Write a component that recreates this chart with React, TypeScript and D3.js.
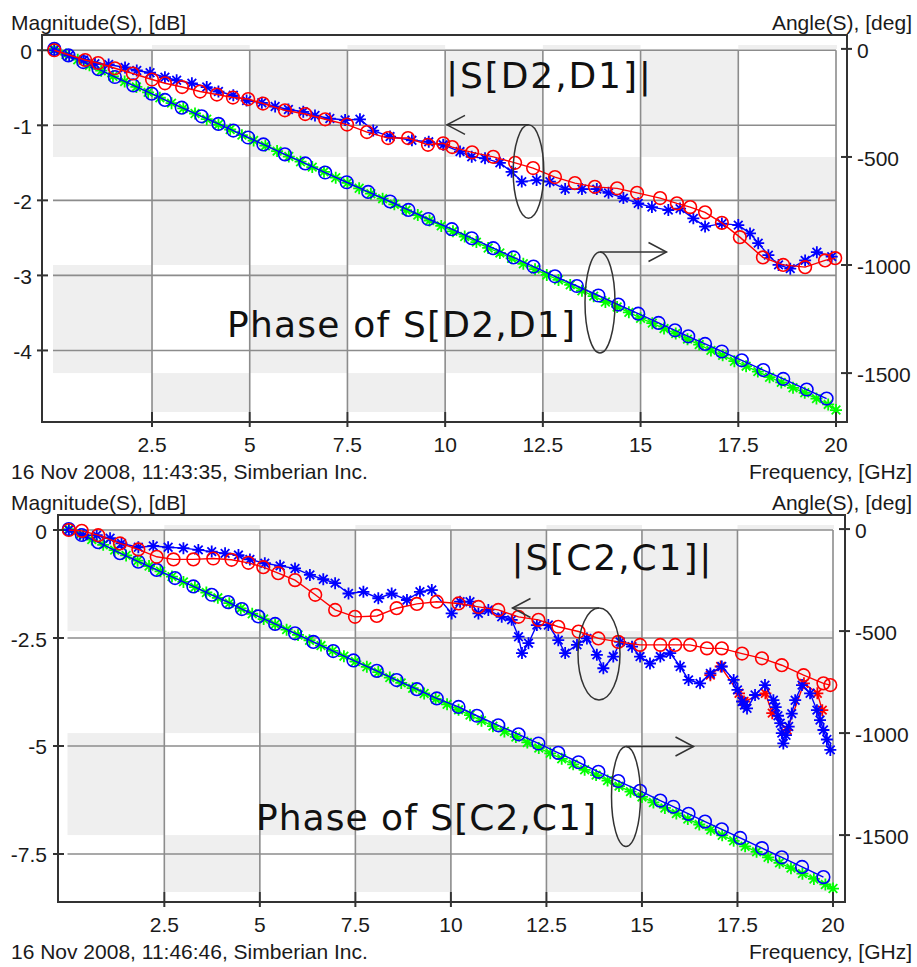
import React from 'react';
import * as d3 from 'd3';

// ---------- shared ticks ----------
const freqTicks = [2.5, 5, 7.5, 10, 12.5, 15, 17.5, 20];
const angleTicks = [0, -500, -1000, -1500];
const d21MagTicks = [0, -1, -2, -3, -4];
const c21MagTicks = [0, -2.5, -5, -7.5];

// ---------- Top chart: S[D2,D1] ----------
// magnitude, red circles
const d21MagModelFreq = [0, 0.79, 1.12, 1.55, 2.01, 2.5, 2.83, 3.27, 3.73, 4.16, 4.57, 4.96, 5.34, 5.9, 6.42, 6.93, 7.49, 8.0, 8.54, 9.05, 9.56, 9.95, 10.18, 10.69, 11.23, 11.79, 12.25, 12.81, 13.32, 13.83, 14.4, 14.91, 15.5, 15.93, 16.27, 16.65, 17.08, 17.54, 18.13, 18.65, 19.21, 19.72, 19.98];
const d21MagModel = [0, -0.13, -0.17, -0.24, -0.31, -0.39, -0.44, -0.49, -0.55, -0.59, -0.63, -0.65, -0.71, -0.8, -0.85, -0.92, -0.99, -1.09, -1.17, -1.17, -1.26, -1.24, -1.29, -1.36, -1.42, -1.5, -1.57, -1.69, -1.77, -1.82, -1.84, -1.9, -1.97, -2.04, -2.09, -2.16, -2.3, -2.49, -2.76, -2.86, -2.89, -2.8, -2.77];
// magnitude, blue stars
const d21MagMeasFreq = [0, 0.38, 0.75, 1.04, 1.39, 1.81, 2.11, 2.45, 2.83, 3.13, 3.52, 3.9, 4.2, 4.58, 4.92, 5.31, 5.65, 5.99, 6.37, 6.67, 7.05, 7.44, 7.82, 8.16, 8.59, 9.15, 9.58, 9.95, 10.38, 10.68, 11.02, 11.4, 11.7, 11.96, 12.34, 12.68, 13.07, 13.5, 13.88, 14.18, 14.56, 14.94, 15.29, 15.71, 16.01, 16.35, 16.65, 17.08, 17.5, 17.8, 18.01, 18.27, 18.53, 18.83, 19.21, 19.51, 19.89];
const d21MagMeas = [0, -0.07, -0.13, -0.18, -0.19, -0.23, -0.27, -0.3, -0.36, -0.4, -0.44, -0.49, -0.55, -0.6, -0.67, -0.7, -0.75, -0.79, -0.82, -0.87, -0.91, -0.93, -0.92, -1.07, -1.15, -1.2, -1.22, -1.26, -1.35, -1.42, -1.44, -1.5, -1.62, -1.75, -1.73, -1.75, -1.85, -1.85, -1.85, -1.9, -1.97, -2.04, -2.09, -2.13, -2.11, -2.24, -2.35, -2.31, -2.33, -2.44, -2.57, -2.73, -2.86, -2.91, -2.8, -2.69, -2.75];
// phase, blue circles
const d21PhaseMeasFreq = [0, 0.36, 0.74, 1.13, 1.55, 2.02, 2.49, 2.83, 3.26, 3.77, 4.2, 4.58, 4.96, 5.35, 5.9, 6.42, 6.93, 7.48, 8.03, 8.59, 9.06, 9.57, 10.17, 10.68, 11.23, 11.75, 12.26, 12.81, 13.37, 13.92, 14.43, 14.94, 15.46, 15.88, 16.22, 16.65, 17.08, 17.59, 18.14, 18.65, 19.25, 19.76];
const d21PhaseMeas = [0, -30, -61, -94, -130, -169, -207, -236, -272, -312, -347, -378, -410, -442, -488, -530, -572, -617, -662, -706, -745, -787, -834, -876, -922, -965, -1007, -1052, -1097, -1141, -1183, -1225, -1268, -1302, -1330, -1365, -1400, -1441, -1486, -1527, -1576, -1618];
// phase, green stars
const phaseModelFreq = [0, 0.3, 0.6, 0.9, 1.2, 1.5, 1.8, 2.1, 2.4, 2.7, 3.0, 3.3, 3.6, 3.9, 4.2, 4.5, 4.8, 5.1, 5.4, 5.7, 6.0, 6.3, 6.6, 6.9, 7.2, 7.5, 7.8, 8.1, 8.4, 8.7, 9.0, 9.3, 9.6, 9.9, 10.2, 10.5, 10.8, 11.1, 11.4, 11.7, 12.0, 12.3, 12.6, 12.9, 13.2, 13.5, 13.8, 14.1, 14.4, 14.7, 15.0, 15.3, 15.6, 15.9, 16.2, 16.5, 16.8, 17.1, 17.4, 17.7, 18.0, 18.3, 18.6, 18.9, 19.2, 19.5, 19.8, 20.0];
const d21PhaseModel = [0, -26, -50, -76, -101, -127, -151, -176, -201, -226, -251, -275, -299, -325, -350, -373, -399, -424, -448, -473, -498, -522, -547, -569, -596, -620, -645, -670, -693, -719, -746, -769, -794, -819, -844, -868, -894, -921, -944, -969, -994, -1019, -1046, -1069, -1092, -1119, -1144, -1171, -1194, -1219, -1246, -1269, -1294, -1317, -1343, -1368, -1395, -1418, -1445, -1468, -1493, -1519, -1543, -1568, -1591, -1618, -1645, -1671];

// ---------- Bottom chart: S[C2,C1] ----------
const c21MagModelFreq = [0, 0.34, 0.77, 1.34, 1.82, 2.3, 2.74, 3.26, 3.78, 4.26, 4.7, 5.09, 5.48, 5.92, 6.45, 6.97, 7.49, 8.06, 8.58, 9.11, 9.63, 10.2, 10.72, 11.24, 11.77, 12.29, 12.81, 13.34, 13.86, 14.38, 14.95, 15.48, 15.87, 16.26, 16.7, 17.09, 17.62, 18.14, 18.66, 19.23, 19.75, 19.93];
const c21MagModel = [0, -0.02, -0.12, -0.31, -0.45, -0.62, -0.68, -0.68, -0.66, -0.69, -0.76, -0.86, -1.0, -1.16, -1.5, -1.85, -2.01, -1.99, -1.81, -1.71, -1.66, -1.7, -1.78, -1.85, -2.01, -2.08, -2.24, -2.35, -2.51, -2.59, -2.66, -2.66, -2.66, -2.66, -2.74, -2.74, -2.86, -2.97, -3.13, -3.36, -3.55, -3.59];
const c21MagMeasFreq = [0, 0.38, 0.73, 1.08, 1.38, 1.82, 2.21, 2.6, 3.0, 3.39, 3.74, 4.09, 4.44, 4.74, 5.13, 5.53, 5.92, 6.31, 6.66, 6.97, 7.32, 7.71, 8.1, 8.45, 8.85, 9.19, 9.5, 10.02, 10.24, 10.5, 10.72, 10.98, 11.33, 11.59, 11.77, 11.86, 12.03, 12.25, 12.55, 12.81, 12.99, 13.3, 13.56, 13.82, 13.99, 14.25, 14.43, 14.74, 14.95, 15.21, 15.48, 15.74, 16.0, 16.22, 16.52, 16.79, 17.09, 17.4, 17.5, 17.62, 17.68, 17.75, 17.96, 18.22, 18.44, 18.5, 18.56, 18.62, 18.66, 18.7, 18.77, 18.84, 18.92, 19.01, 19.19, 19.4, 19.58, 19.66, 19.75, 19.84, 19.93];
const c21MagMeas = [0, -0.12, -0.12, -0.19, -0.31, -0.4, -0.37, -0.4, -0.42, -0.46, -0.5, -0.54, -0.58, -0.68, -0.77, -0.83, -0.89, -1.04, -1.14, -1.23, -1.47, -1.43, -1.58, -1.47, -1.62, -1.43, -1.39, -1.93, -1.66, -1.66, -1.93, -1.85, -2.01, -2.08, -2.47, -2.85, -2.62, -2.2, -2.2, -2.55, -2.85, -2.66, -2.51, -2.89, -3.2, -2.93, -2.59, -2.7, -2.93, -3.09, -2.93, -2.85, -3.16, -3.47, -3.55, -3.32, -3.16, -3.47, -3.7, -3.97, -4.05, -4.13, -3.82, -3.59, -3.94, -4.1, -4.3, -4.47, -4.7, -4.94, -4.75, -4.55, -4.25, -3.94, -3.59, -3.78, -4.17, -4.4, -4.63, -4.85, -5.09];
const c21MagMeas2Freq = [16.79, 17.06, 17.54, 17.67, 18.23, 18.41, 18.8, 19.24, 19.59, 19.72];
const c21MagMeas2 = [-3.36, -3.16, -3.78, -3.97, -3.78, -4.24, -4.63, -3.55, -3.78, -4.17];
const c21PhaseMeasFreq = [0, 0.34, 0.77, 1.34, 1.82, 2.3, 2.78, 3.26, 3.74, 4.17, 4.53, 4.96, 5.4, 5.92, 6.4, 6.92, 7.45, 8.06, 8.58, 9.11, 9.63, 10.2, 10.68, 11.24, 11.77, 12.29, 12.81, 13.34, 13.86, 14.38, 14.95, 15.48, 15.82, 16.22, 16.65, 17.09, 17.57, 18.14, 18.66, 19.19, 19.75];
const c21PhaseMeas = [0, -29, -64, -118, -160, -200, -240, -281, -322, -358, -392, -428, -465, -511, -553, -598, -644, -695, -740, -785, -830, -872, -915, -962, -1006, -1051, -1097, -1143, -1190, -1235, -1283, -1331, -1361, -1396, -1434, -1472, -1514, -1564, -1609, -1656, -1706];
const c21PhaseModel = [0, -25, -51, -77, -103, -129, -155, -181, -207, -233, -259, -285, -311, -337, -363, -389, -415, -441, -467, -493, -519, -545, -571, -597, -623, -649, -675, -701, -728, -754, -780, -806, -833, -859, -886, -912, -939, -966, -992, -1019, -1046, -1073, -1099, -1126, -1153, -1180, -1206, -1233, -1260, -1287, -1313, -1340, -1367, -1394, -1421, -1448, -1474, -1501, -1528, -1555, -1582, -1609, -1636, -1662, -1689, -1715, -1742, -1762];

const FONT = "'Liberation Sans', Arial, sans-serif";
const ANN_FONT = "'DejaVu Sans', Verdana, sans-serif";
const RED = '#ff0000';
const BLUE = '#0000ff';
const GREEN = '#00ff00';

type Series = { f: number[]; v: number[]; color: string; marker: 'circle' | 'star'; axis: 'L' | 'R' };

interface Ell { cx: number; cy: number; rx: number; ry: number; tipX: number }

interface Cfg {
  dy: number;
  fx0: number;
  fx1: number;
  xr: [number, number];
  magDomain: [number, number];
  angDomain: [number, number];
  magTicks: number[];
  magLabelX: number;
  angLabelX: number;
  stamp: string;
  series: Series[];
  magText: string;
  magTextPos: [number, number, number];
  phText: string;
  phTextPos: [number, number, number];
  ell1: Ell;
  ell2: Ell;
}

function starPath(cx: number, cy: number, s: number) {
  const d = s * 0.72;
  return `M${cx - s},${cy}L${cx + s},${cy}M${cx},${cy - s}L${cx},${cy + s}M${cx - d},${cy - d}L${cx + d},${cy + d}M${cx - d},${cy + d}L${cx + d},${cy - d}`;
}

function Arrow({ e, dir }: { e: Ell; dir: number }) {
  const y = e.cy - e.ry;
  return (
    <g stroke="#333" strokeWidth={1.5} fill="none">
      <ellipse cx={e.cx} cy={e.cy} rx={e.rx} ry={e.ry} />
      <line x1={e.cx} y1={y} x2={e.tipX} y2={y} />
      <polyline points={`${e.tipX - dir * 18},${y - 9.5} ${e.tipX},${y} ${e.tipX - dir * 18},${y + 9.5}`} />
    </g>
  );
}

function Chart({ c }: { c: Cfg }) {
  const dy = c.dy;
  const top = 45 + dy;
  const bot = 412 + dy;
  const fy0 = 35 + dy;
  const fy1 = 422 + dy;
  const x = d3.scaleLinear().domain([0, 20]).range(c.xr);
  const yL = d3.scaleLinear().domain(c.magDomain).range([bot, top]);
  const yR = d3.scaleLinear().domain(c.angDomain).range([bot, top]);

  const colEdges = [0, ...freqTicks].map((t) => x(t));
  colEdges[0] -= 1.3;
  colEdges[colEdges.length - 1] += 1;
  const rowEdges = [top, ...angleTicks.map((t) => yR(t)), bot];
  const cells: any[] = [];
  for (let i = 0; i < colEdges.length - 1; i++) {
    for (let j = 0; j < rowEdges.length - 1; j++) {
      if ((i + j) % 2 === 1) {
        cells.push(
          <rect key={`c${i}-${j}`} x={colEdges[i]} y={rowEdges[j]} width={colEdges[i + 1] - colEdges[i]} height={rowEdges[j + 1] - rowEdges[j]} fill="#efefef" />
        );
      }
    }
  }

  const gridTop = yL(0);

  return (
    <g>
      {cells}
      <g stroke="#8c8c8c" strokeWidth={1.6}>
        {c.magTicks.map((t) => (
          <line key={`h${t}`} x1={colEdges[0]} x2={x(20)} y1={yL(t)} y2={yL(t)} />
        ))}
        {freqTicks.map((t) => (
          <line key={`v${t}`} x1={x(t)} x2={x(t)} y1={gridTop} y2={bot} />
        ))}
      </g>
      {c.series.map((s, si) => {
        const y = s.axis === 'L' ? yL : yR;
        const line = d3.line<number>().x((_, i) => x(s.f[i])).y((v) => y(v));
        return (
          <g key={`s${si}`}>
            <path d={line(s.v) || ''} fill="none" stroke={s.color} strokeWidth={1.4} />
            {s.v.map((v, i) =>
              s.marker === 'circle' ? (
                <circle key={i} cx={x(s.f[i])} cy={y(v)} r={6.3} fill="none" stroke={s.color} strokeWidth={1.6} />
              ) : (
                <path key={i} d={starPath(x(s.f[i]), y(v), 6)} stroke={s.color} strokeWidth={1.8} fill="none" />
              )
            )}
          </g>
        );
      })}
      <rect x={c.fx0} y={fy0} width={c.fx1 - c.fx0} height={fy1 - fy0} fill="none" stroke="#333" strokeWidth={2} />
      <g stroke="#333" strokeWidth={2}>
        {freqTicks.map((t) => (
          <line key={`xt${t}`} x1={x(t)} x2={x(t)} y1={fy1 - 10} y2={fy1 + 5} />
        ))}
        {c.magTicks.map((t) => (
          <line key={`lt${t}`} x1={c.fx0 - 5} x2={c.fx0 + 6} y1={yL(t)} y2={yL(t)} />
        ))}
        {angleTicks.map((t) => (
          <line key={`rt${t}`} x1={c.fx1 - 6} x2={c.fx1 + 5} y1={yR(t)} y2={yR(t)} />
        ))}
      </g>
      <g fontFamily={FONT} fontSize={21} fill="#1a1a1a">
        {freqTicks.map((t) => (
          <text key={`xl${t}`} x={x(t)} y={451.5 + dy} textAnchor="middle">{String(t)}</text>
        ))}
        {c.magTicks.map((t) => (
          <text key={`ll${t}`} x={c.magLabelX} y={yL(t) + 8.5} textAnchor="end">{String(t)}</text>
        ))}
        {angleTicks.map((t) => (
          <text key={`rl${t}`} x={c.angLabelX} y={yR(t) + 9} textAnchor="start">{String(t)}</text>
        ))}
        <text x={11} y={29.5 + dy}>Magnitude(S), [dB]</text>
        <text x={912} y={29.5 + dy} textAnchor="end">Angle(S), [deg]</text>
        <text x={11} y={479 + dy}>{c.stamp}</text>
        <text x={912} y={478.5 + dy} textAnchor="end">Frequency, [GHz]</text>
      </g>
      <g fontFamily={ANN_FONT} fontSize={36} fill="#111">
        <text x={c.magTextPos[0]} y={c.magTextPos[1]} textLength={c.magTextPos[2]} lengthAdjust="spacing">{c.magText}</text>
        <text x={c.phTextPos[0]} y={c.phTextPos[1]} textLength={c.phTextPos[2]} lengthAdjust="spacing">{c.phText}</text>
      </g>
      <Arrow e={c.ell1} dir={-1} />
      <Arrow e={c.ell2} dir={1} />
    </g>
  );
}

const topCfg: Cfg = {
  dy: 0,
  fx0: 42,
  fx1: 847,
  xr: [54.3, 836],
  magDomain: [-4.82, 0.07],
  angDomain: [-1680, 18],
  magTicks: d21MagTicks,
  magLabelX: 32,
  angLabelX: 857,
  stamp: '16 Nov 2008, 11:43:35, Simberian Inc.',
  series: [
    { f: phaseModelFreq, v: d21PhaseModel, color: GREEN, marker: 'star', axis: 'R' },
    { f: d21PhaseMeasFreq, v: d21PhaseMeas, color: BLUE, marker: 'circle', axis: 'R' },
    { f: d21MagMeasFreq, v: d21MagMeas, color: BLUE, marker: 'star', axis: 'L' },
    { f: d21MagModelFreq, v: d21MagModel, color: RED, marker: 'circle', axis: 'L' },
  ],
  magText: '|S[D2,D1]|',
  magTextPos: [446, 87.5, 205],
  phText: 'Phase of S[D2,D1]',
  phTextPos: [227, 337, 348],
  ell1: { cx: 528.5, cy: 171.5, rx: 15.3, ry: 46.7, tipX: 447 },
  ell2: { cx: 600, cy: 302.5, rx: 15, ry: 50.5, tipX: 666.5 },
};

const botCfg: Cfg = {
  dy: 480,
  fx0: 58,
  fx1: 845,
  xr: [68.8, 833],
  magDomain: [-8.38, 0.116],
  angDomain: [-1779, 20],
  magTicks: c21MagTicks,
  magLabelX: 47,
  angLabelX: 855,
  stamp: '16 Nov 2008, 11:46:46, Simberian Inc.',
  series: [
    { f: phaseModelFreq, v: c21PhaseModel, color: GREEN, marker: 'star', axis: 'R' },
    { f: c21PhaseMeasFreq, v: c21PhaseMeas, color: BLUE, marker: 'circle', axis: 'R' },
    { f: c21MagMeas2Freq, v: c21MagMeas2, color: RED, marker: 'star', axis: 'L' },
    { f: c21MagMeasFreq, v: c21MagMeas, color: BLUE, marker: 'star', axis: 'L' },
    { f: c21MagModelFreq, v: c21MagModel, color: RED, marker: 'circle', axis: 'L' },
  ],
  magText: '|S[C2,C1]|',
  magTextPos: [511.5, 570, 200],
  phText: 'Phase of S[C2,C1]',
  phTextPos: [256, 830, 340],
  ell1: { cx: 599, cy: 654, rx: 21, ry: 46, tipX: 512.5 },
  ell2: { cx: 626, cy: 796.5, rx: 14.5, ry: 50, tipX: 693.5 },
};

export default function App() {
  return (
    <svg width={917} height={967} style={{ position: 'absolute', left: 0, top: 0, background: '#fff', display: 'block' }}>
      <rect x={0} y={0} width={917} height={967} fill="#fff" />
      <Chart c={topCfg} />
      <Chart c={botCfg} />
    </svg>
  );
}
